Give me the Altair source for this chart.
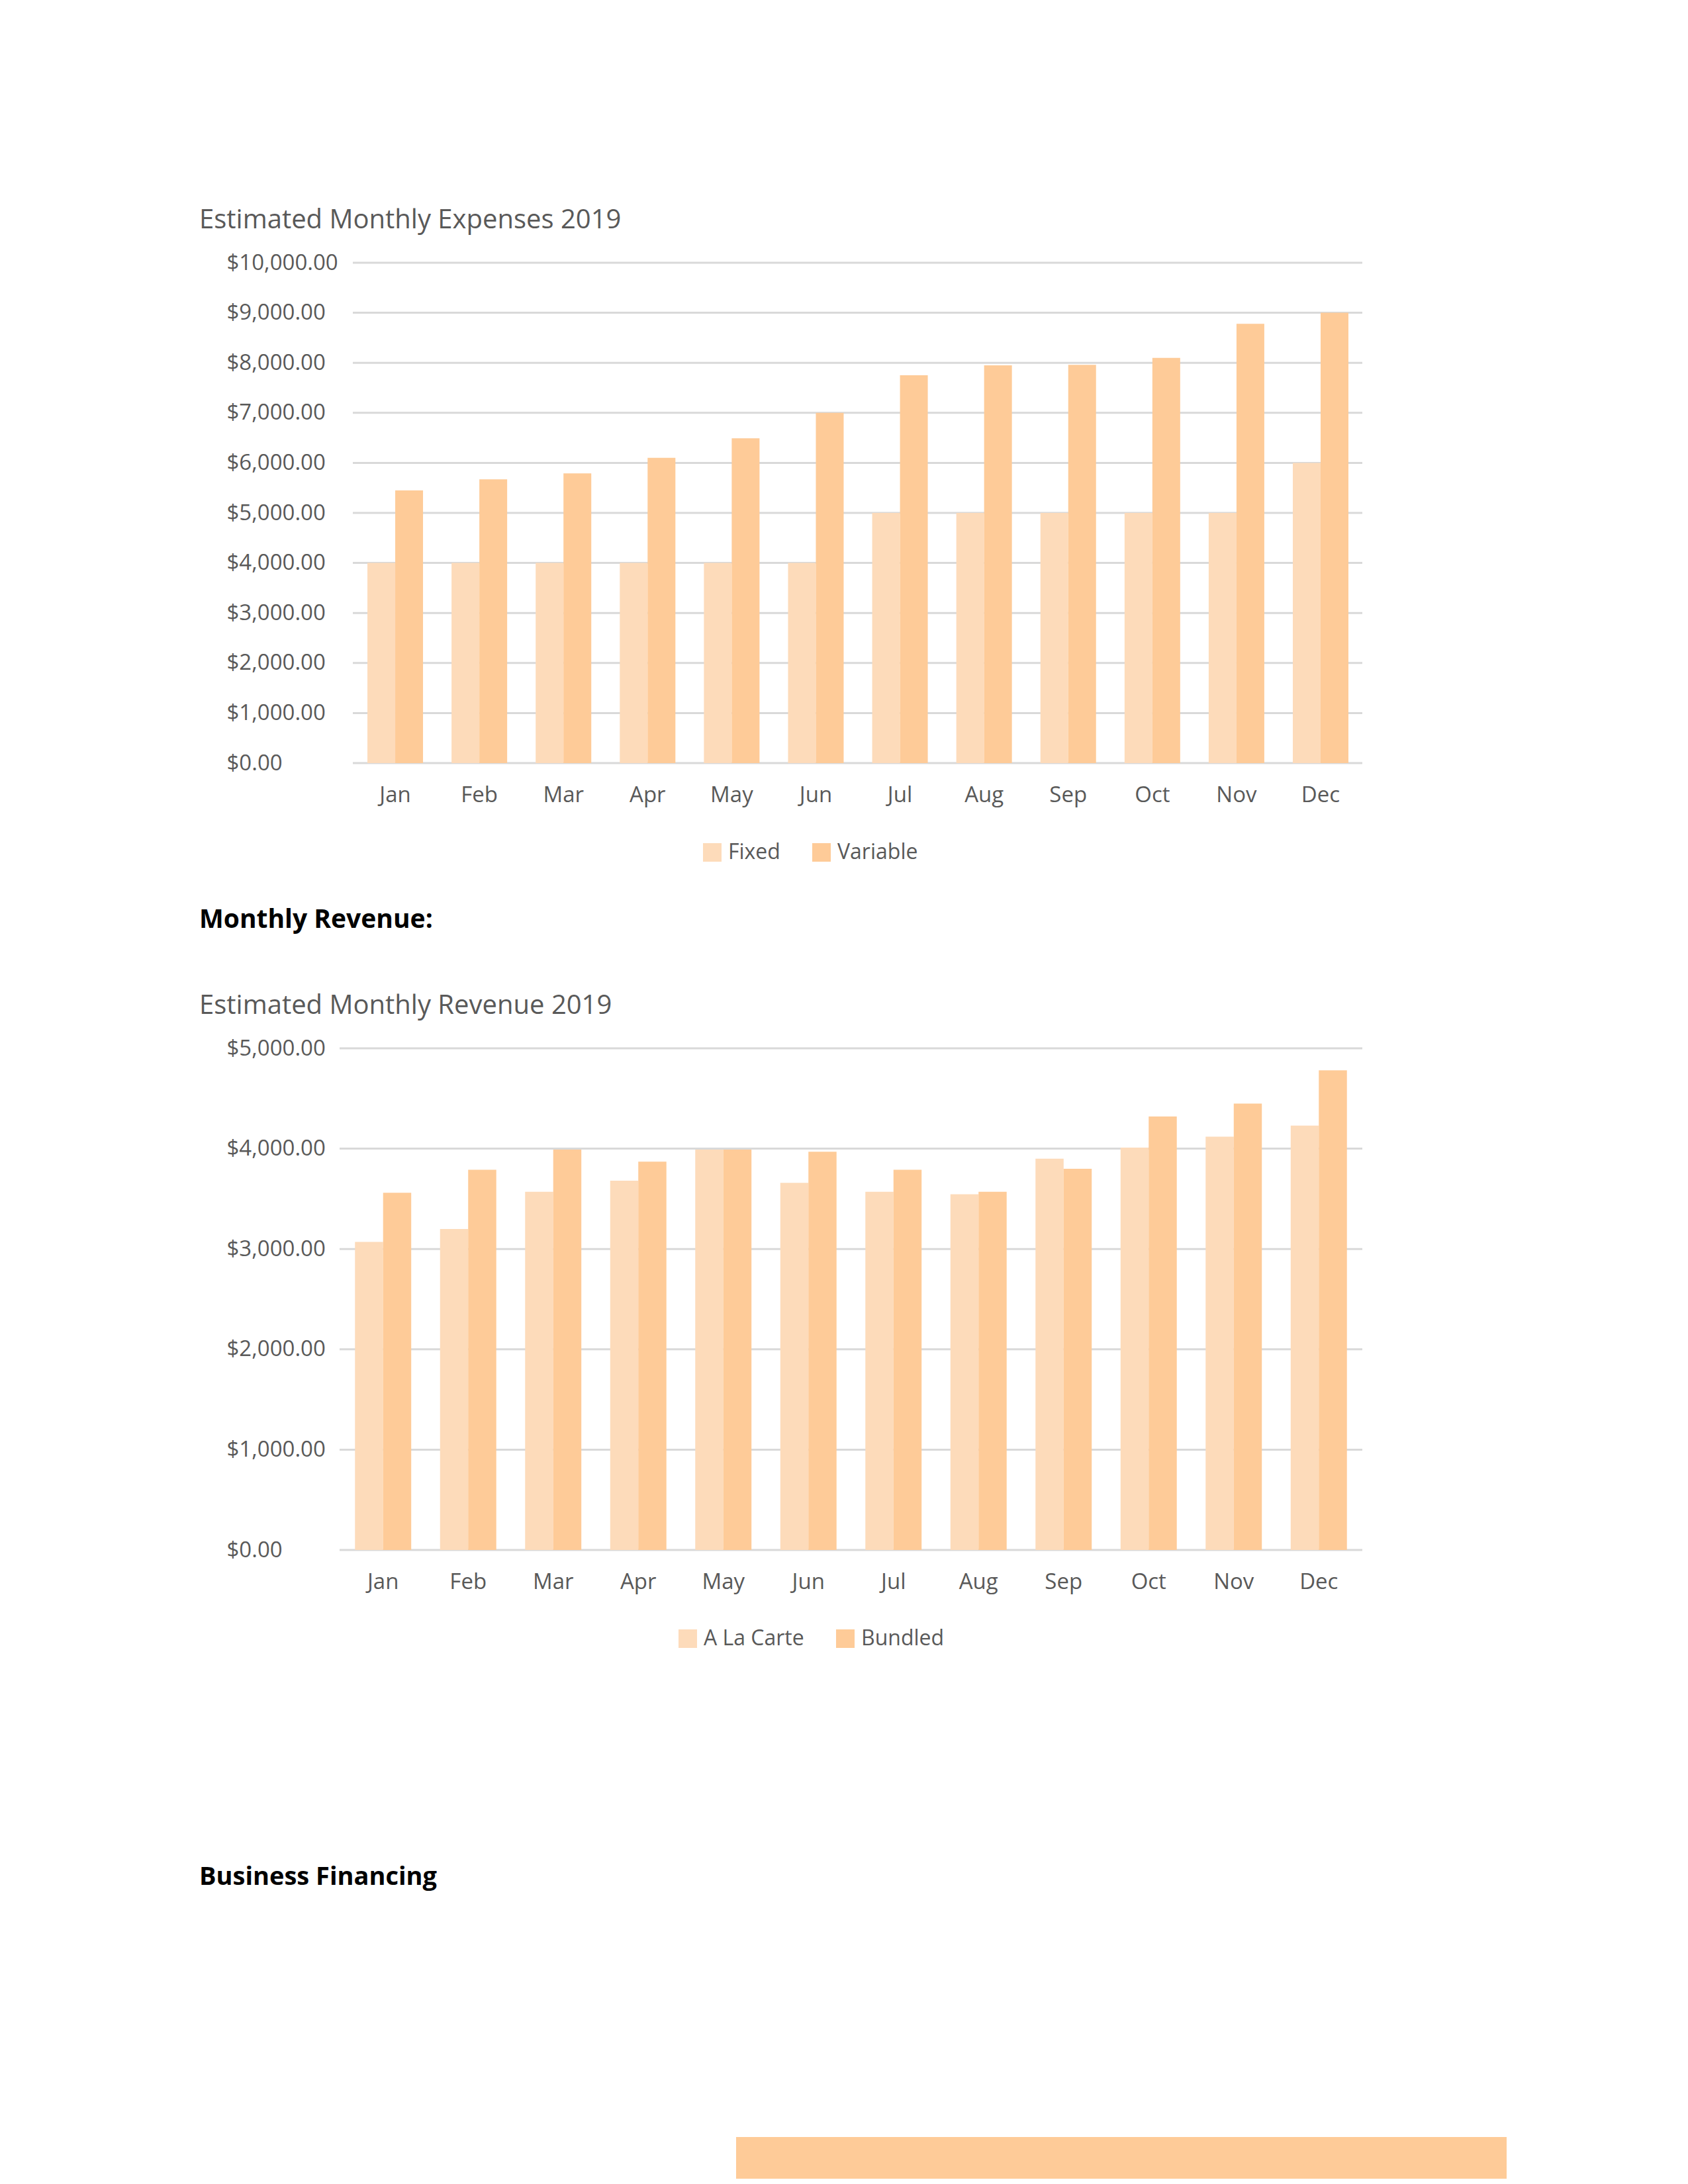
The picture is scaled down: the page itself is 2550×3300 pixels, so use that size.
import altair as alt
import pandas as pd

# ---------------- data ----------------
months = ["Jan", "Feb", "Mar", "Apr", "May", "Jun", "Jul", "Aug", "Sep", "Oct", "Nov", "Dec"]

exp_series = ["Fixed", "Variable"]
exp_fixed = [4000, 4000, 4000, 4000, 4000, 4000, 5000, 5000, 5000, 5000, 5000, 6000]
exp_variable = [5450, 5670, 5790, 6100, 6490, 7000, 7750, 7950, 7960, 8100, 8780, 9000]
exp_ticks = [0, 1000, 2000, 3000, 4000, 5000, 6000, 7000, 8000, 9000, 10000]

rev_series = ["A La Carte", "Bundled"]
rev_alacarte = [3070, 3200, 3570, 3680, 3990, 3660, 3570, 3545, 3900, 4010, 4120, 4230]
rev_bundled = [3560, 3790, 3990, 3870, 3990, 3970, 3790, 3570, 3800, 4320, 4450, 4780]
rev_ticks = [0, 1000, 2000, 3000, 4000, 5000]

exp_title = "Estimated Monthly Expenses 2019"
rev_title = "Estimated Monthly Revenue 2019"
heading_revenue = "Monthly Revenue:"
heading_financing = "Business Financing"

# ---------------- style ----------------
LIGHT = "#FDDBBA"
DARK = "#FECB98"
GRID = "#D9D9D9"
TEXT = "#595959"
FONT = "Open Sans"
W = 1545


def long_df(a, b, names):
    rows = []
    for i, m in enumerate(months):
        rows.append({"month": m, "series": names[0], "value": a[i]})
        rows.append({"month": m, "series": names[1], "value": b[i]})
    return pd.DataFrame(rows)


def text_layer(txt, x, y, size, color, weight="normal"):
    return alt.Chart(pd.DataFrame({"t": [txt]})).mark_text(
        align="left", baseline="alphabetic", font=FONT, fontSize=size,
        fontWeight=weight, color=color
    ).encode(text="t:N", x=alt.value(x), y=alt.value(y))


def bar_panel(df, series, ticks, ymax, xscale, grid_x0, legend_x, legend_y):
    yscale = alt.Scale(domain=[0, ymax], nice=False, zero=True)

    def yaxis():
        return alt.Axis(
            values=ticks, format="$,.2f", labelAlign="left", labelBaseline="middle",
            labelPadding=171, ticks=False, tickSize=0, domain=False, grid=False,
            labelFont=FONT, labelFontSize=33, labelColor=TEXT, title=None)

    rules = alt.Chart(pd.DataFrame({"tick": ticks})).mark_rule(
        color=GRID, strokeWidth=3
    ).encode(
        y=alt.Y("tick:Q", scale=yscale, axis=yaxis()),
        x=alt.value(grid_x0),
        x2=alt.value(W),
    )
    bars = alt.Chart(df).mark_bar(strokeWidth=0).encode(
        x=alt.X("month:N", sort=months, scale=xscale, axis=alt.Axis(
            title=None, labelAngle=0, ticks=False, tickSize=0, domain=False,
            grid=False, labelPadding=32, labelFont=FONT, labelFontSize=33,
            labelColor=TEXT)),
        xOffset=alt.XOffset("series:N", sort=series,
                            scale=alt.Scale(domain=series, paddingInner=0, paddingOuter=0)),
        y=alt.Y("value:Q", scale=yscale, axis=yaxis()),
        color=alt.Color("series:N", sort=series,
                        scale=alt.Scale(domain=series, range=[LIGHT, DARK]),
                        legend=alt.Legend(
                            orient="none", legendX=legend_x, legendY=legend_y,
                            direction="horizontal", title=None, symbolType="square",
                            symbolSize=784, symbolStrokeWidth=0, labelFont=FONT,
                            labelFontSize=32, labelColor=TEXT, labelOffset=8,
                            columnPadding=46, padding=0)),
    )
    return rules, bars


# ---------------- panel 1: expenses ----------------
exp_df = long_df(exp_fixed, exp_variable, exp_series)
r1, b1 = bar_panel(
    exp_df, exp_series, exp_ticks, 10000,
    alt.Scale(paddingInner=0.339, paddingOuter=0.248, align=0.667),
    20, 547, 875,
)
anchor = alt.Chart(pd.DataFrame({"a": [0]})).mark_rect(color="white").encode(
    x=alt.value(-505), x2=alt.value(-504), y=alt.value(-389), y2=alt.value(-388)
)
row1 = alt.layer(
    anchor, r1, b1, text_layer(exp_title, -212, -52, 40, TEXT)
).properties(width=W, height=756)

# ---------------- panel 2: revenue ----------------
rev_df = long_df(rev_alacarte, rev_bundled, rev_series)
r2, b2 = bar_panel(
    rev_df, rev_series, rev_ticks, 5000,
    alt.Scale(paddingInner=0.339, paddingOuter=0.181, align=0.5),
    0, 510, 876,
)
row2 = alt.layer(
    r2, b2,
    text_layer(heading_revenue, -212, -182, 39, "#000000", "bold"),
    text_layer(rev_title, -212, -52, 40, TEXT),
).properties(width=W, height=758)

# ---------------- panel 3: heading + footer band ----------------
band = alt.Chart(pd.DataFrame({"a": [0]})).mark_rect(color=DARK).encode(
    x=alt.value(599), x2=alt.value(1763), y=alt.value(456), y2=alt.value(519)
)
row3 = alt.layer(
    text_layer(heading_financing, -212, 75, 38, "#000000", "bold"), band
).properties(width=1763, height=519)

chart = alt.concat(
    row1, row2, row3, columns=1, spacing=431, bounds="flush"
).resolve_scale(
    x="independent", y="independent", xOffset="independent", color="independent"
).properties(padding=0).configure_view(strokeWidth=0)

chart.save("out.html", embed_options={"renderer": "svg", "actions": False})
